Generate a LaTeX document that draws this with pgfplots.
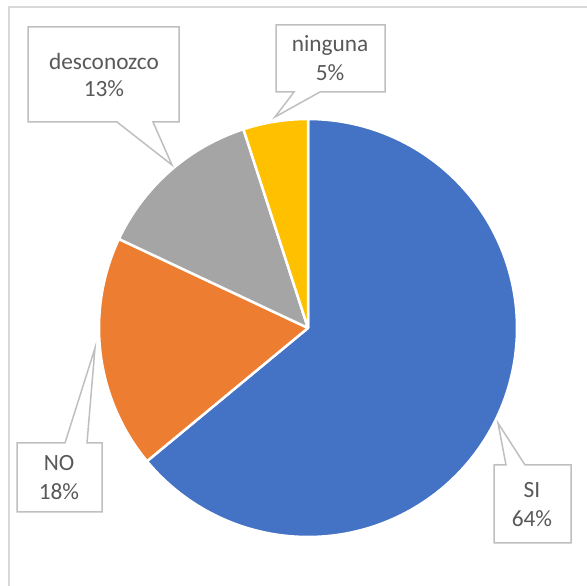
\documentclass[border=0pt]{standalone}
\usepackage{pgfplots}
\usepackage{pgfplotstable}
\pgfplotsset{compat=1.18}
\usepackage{fontspec}
\setmainfont{Carlito}
\definecolor{siblue}{HTML}{4472C4}
\definecolor{noorange}{HTML}{ED7D31}
\definecolor{desgray}{HTML}{A5A5A5}
\definecolor{ningyellow}{HTML}{FFC000}
\definecolor{txt}{HTML}{595959}
\definecolor{callout}{HTML}{BFBFBF}
\definecolor{frame}{HTML}{D9D9D9}

\pgfplotstableread{
label value
SI 64
NO 18
desconozco 13
ninguna 5
}\piedata
\pgfplotstablegetelem{0}{value}\of\piedata\let\vA\pgfplotsretval
\pgfplotstablegetelem{1}{value}\of\piedata\let\vB\pgfplotsretval
\pgfplotstablegetelem{2}{value}\of\piedata\let\vC\pgfplotsretval
\pgfplotstablegetelem{3}{value}\of\piedata\let\vD\pgfplotsretval
\pgfmathsetmacro\aA{90}
\pgfmathsetmacro\aB{\aA-3.6*\vA}
\pgfmathsetmacro\aC{\aB-3.6*\vB}
\pgfmathsetmacro\aD{\aC-3.6*\vC}
\pgfmathsetmacro\aE{\aD-3.6*\vD}

\tikzset{lbl/.style={font=\fontsize{23.3}{28}\selectfont, text=txt, inner sep=0pt, anchor=base}}

\begin{document}%
\begin{tikzpicture}
\begin{axis}[
  x=1pt, y=1pt,
  xmin=0, xmax=587, ymin=-586, ymax=0,
  hide axis, clip=false,
]
\coordinate (bl) at (axis cs:0,-586);
\coordinate (tr) at (axis cs:587,0);
% outer frame
\draw[frame, line width=1.5pt] (axis cs:9,-586) -- (axis cs:9,-7) -- (axis cs:587,-7);
% wedges
\addplot[fill=siblue, draw=white, line width=2.5pt, line join=round, domain=\aB:\aA, samples=150, variable=\t]
  ({308+209*cos(\t)}, {-328+209*sin(\t)}) -- (axis cs:308,-328) -- cycle;
\addplot[fill=noorange, draw=white, line width=2.5pt, line join=round, domain=\aC:\aB, samples=60, variable=\t]
  ({308+209*cos(\t)}, {-328+209*sin(\t)}) -- (axis cs:308,-328) -- cycle;
\addplot[fill=desgray, draw=white, line width=2.5pt, line join=round, domain=\aD:\aC, samples=50, variable=\t]
  ({308+209*cos(\t)}, {-328+209*sin(\t)}) -- (axis cs:308,-328) -- cycle;
\addplot[fill=ningyellow, draw=white, line width=2.5pt, line join=round, domain=\aE:\aD, samples=30, variable=\t]
  ({308+209*cos(\t)}, {-328+209*sin(\t)}) -- (axis cs:308,-328) -- cycle;
% callouts
\draw[callout, fill=white, line width=1.5pt]
  (axis cs:28,-27) -- (axis cs:179,-27) -- (axis cs:179,-122) -- (axis cs:153,-122)
  -- (axis cs:172,-165) -- (axis cs:117,-122) -- (axis cs:28,-122) -- cycle;
\draw[callout, fill=white, line width=1.5pt]
  (axis cs:276,-25) -- (axis cs:385,-25) -- (axis cs:385,-92) -- (axis cs:320,-92)
  -- (axis cs:275,-117) -- (axis cs:294,-92) -- (axis cs:276,-92) -- cycle;
\draw[callout, fill=white, line width=1.5pt]
  (axis cs:17,-443) -- (axis cs:65,-443) -- (axis cs:95,-348) -- (axis cs:87,-443)
  -- (axis cs:102,-443) -- (axis cs:102,-512) -- (axis cs:17,-512) -- cycle;
\draw[callout, fill=white, line width=1.5pt]
  (axis cs:494,-465) -- (axis cs:506,-465) -- (axis cs:498,-423) -- (axis cs:525,-465)
  -- (axis cs:571,-465) -- (axis cs:571,-543) -- (axis cs:494,-543) -- cycle;
% labels
\node[lbl] at (axis cs:104,-70) {desconozco};
\node[lbl] at (axis cs:104,-97) {13\%};
\node[lbl] at (axis cs:330,-52) {ninguna};
\node[lbl] at (axis cs:330,-81) {5\%};
\node[lbl] at (axis cs:59,-471) {NO};
\node[lbl] at (axis cs:59,-500) {18\%};
\node[lbl] at (axis cs:532,-498) {SI};
\node[lbl] at (axis cs:532,-527) {64\%};
\end{axis}
\pgfresetboundingbox
\path[use as bounding box] (bl) rectangle (tr);
\end{tikzpicture}%
\end{document}
